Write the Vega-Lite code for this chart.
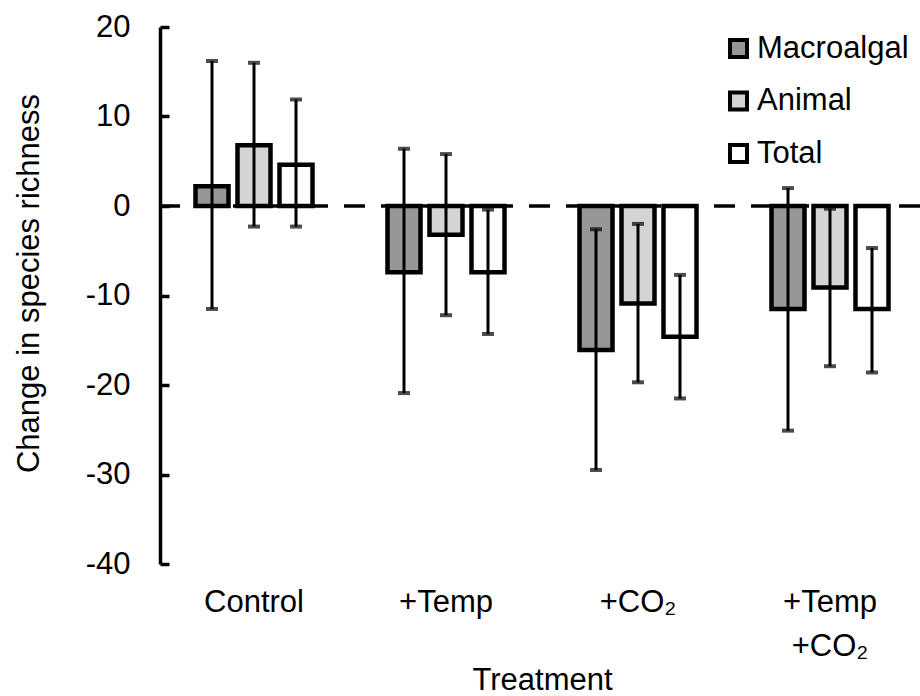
{
  "$schema": "https://vega.github.io/schema/vega-lite/v6.json",
  "width": 760,
  "height": 537,
  "autosize": {"type": "none"},
  "padding": {"left": 160, "top": 27, "right": 0, "bottom": 132},
  "config": {
    "font": "Liberation Sans",
    "view": {"stroke": null},
    "axis": {"labelColor": "#000000", "titleColor": "#000000", "titleFontWeight": "normal", "grid": false}
  },
  "data": {
    "values": [
      {"treatment": "Control", "group": "Macroalgal", "value": 2.2, "lo": -11.5, "hi": 16.2},
      {"treatment": "Control", "group": "Animal", "value": 6.8, "lo": -2.3, "hi": 16.0},
      {"treatment": "Control", "group": "Total", "value": 4.6, "lo": -2.3, "hi": 11.9},
      {"treatment": "+Temp", "group": "Macroalgal", "value": -7.4, "lo": -20.9, "hi": 6.4},
      {"treatment": "+Temp", "group": "Animal", "value": -3.2, "lo": -12.2, "hi": 5.8},
      {"treatment": "+Temp", "group": "Total", "value": -7.4, "lo": -14.3, "hi": -0.4},
      {"treatment": "+CO₂", "group": "Macroalgal", "value": -16.1, "lo": -29.5, "hi": -2.6},
      {"treatment": "+CO₂", "group": "Animal", "value": -10.9, "lo": -19.7, "hi": -2.0},
      {"treatment": "+CO₂", "group": "Total", "value": -14.6, "lo": -21.5, "hi": -7.7},
      {"treatment": "+Temp +CO₂", "group": "Macroalgal", "value": -11.5, "lo": -25.1, "hi": 2.0},
      {"treatment": "+Temp +CO₂", "group": "Animal", "value": -9.1, "lo": -17.9, "hi": -0.3},
      {"treatment": "+Temp +CO₂", "group": "Total", "value": -11.5, "lo": -18.6, "hi": -4.7}
    ]
  },
  "layer": [
    {
      "data": {"values": [{"ref": 0}]},
      "mark": {"type": "rule", "color": "#000000", "strokeWidth": 3.5, "strokeDash": [21, 16]},
      "encoding": {"y": {"field": "ref", "type": "quantitative"}}
    },
    {
      "mark": {"type": "bar", "stroke": "#000000", "strokeWidth": 4.5},
      "encoding": {
        "x": {
          "field": "treatment", "type": "nominal",
          "sort": ["Control", "+Temp", "+CO₂", "+Temp +CO₂"],
          "scale": {"range": [-2, 766], "paddingInner": 0.34375, "paddingOuter": 0.171875},
          "axis": {
            "title": "Treatment", "titleFontSize": 31, "titleY": 125, "titleBaseline": "alphabetic",
            "domain": false, "ticks": false, "labelAngle": 0, "labelFontSize": 31, "labelPadding": 23,
            "labelLineHeight": 44,
            "labelExpr": "datum.label == '+Temp +CO₂' ? ['+Temp', '+CO₂'] : datum.label"
          }
        },
        "xOffset": {
          "field": "group", "type": "nominal", "sort": ["Macroalgal", "Animal", "Total"],
          "scale": {"paddingInner": 0.214, "paddingOuter": 0.107}
        },
        "y": {
          "field": "value", "type": "quantitative",
          "scale": {"domain": [-40, 20], "nice": false},
          "axis": {
            "title": "Change in species richness", "titleFontSize": 31, "titleX": -115, "titleY": 256,
            "titleBaseline": "bottom",
            "values": [-40, -30, -20, -10, 0, 10, 20],
            "labelExpr": "toString(datum.value)",
            "domainColor": "#000000", "domainWidth": 3.5, "tickColor": "#000000", "tickWidth": 3.5,
            "tickSize": -9, "labelPadding": 39, "labelFontSize": 31
          }
        },
        "fill": {
          "field": "group", "type": "nominal",
          "scale": {"domain": ["Macroalgal", "Animal", "Total"], "range": ["#969696", "#d4d4d4", "#ffffff"]},
          "legend": {
            "title": null, "orient": "none", "legendX": 563, "legendY": 6, "padding": 0,
            "labelFontSize": 31, "labelColor": "#000000", "symbolType": "square", "symbolSize": 290,
            "symbolStrokeColor": "#000000", "symbolStrokeWidth": 4, "symbolOpacity": 1,
            "rowPadding": 17.5, "labelOffset": 3
          }
        }
      }
    },
    {
      "mark": {"type": "rule", "color": "#000000", "strokeWidth": 3},
      "encoding": {
        "x": {"field": "treatment", "type": "nominal", "sort": ["Control", "+Temp", "+CO₂", "+Temp +CO₂"]},
        "xOffset": {"field": "group", "type": "nominal", "sort": ["Macroalgal", "Animal", "Total"]},
        "y": {"field": "lo", "type": "quantitative"},
        "y2": {"field": "hi"}
      }
    },
    {
      "mark": {"type": "tick", "color": "#000000", "size": 12, "thickness": 4},
      "encoding": {
        "x": {"field": "treatment", "type": "nominal", "sort": ["Control", "+Temp", "+CO₂", "+Temp +CO₂"]},
        "xOffset": {"field": "group", "type": "nominal", "sort": ["Macroalgal", "Animal", "Total"]},
        "y": {"field": "lo", "type": "quantitative"}
      }
    },
    {
      "mark": {"type": "tick", "color": "#000000", "size": 12, "thickness": 4},
      "encoding": {
        "x": {"field": "treatment", "type": "nominal", "sort": ["Control", "+Temp", "+CO₂", "+Temp +CO₂"]},
        "xOffset": {"field": "group", "type": "nominal", "sort": ["Macroalgal", "Animal", "Total"]},
        "y": {"field": "hi", "type": "quantitative"}
      }
    }
  ]
}
